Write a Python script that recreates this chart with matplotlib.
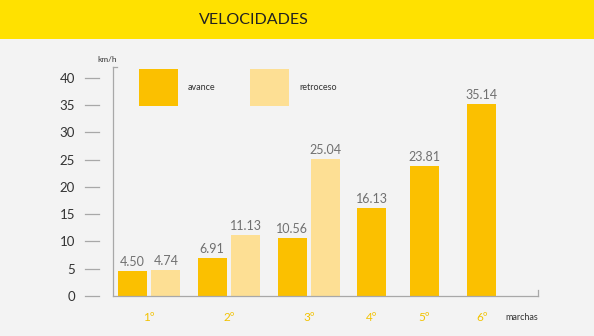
import matplotlib.pyplot as plt
from matplotlib.patches import Rectangle
import matplotlib.transforms as mtransforms
import numpy as np

plt.rcParams['font.family'] = ['Lato', 'DejaVu Sans']

GEARS = ['1º', '2º', '3º', '4º', '5º', '6º']
AVANCE = [4.50, 6.91, 10.56, 16.13, 23.81, 35.14]
RETROCESO = [4.74, 11.13, 25.04]
Y_TICKS = [0, 5, 10, 15, 20, 25, 30, 35, 40]

C_HEADER = '#FFE100'
C_AVANCE = '#FBC000'
C_RETRO = '#FDDF94'
C_BG = '#F3F3F3'
C_AXIS = '#A8A8A8'

# group centres: paired gears first, single gears packed tighter
centers = np.array([1.0, 2.0, 3.0, 3.78, 4.44, 5.16])
width = 0.3625
offset = 0.21

fig = plt.figure(figsize=(5.94, 3.36), dpi=100, facecolor=C_BG)
W, H = 594, 336
ax = fig.add_axes([113 / W, (H - 296) / H, (538 - 113) / W, (296 - 67) / H])
ax.set_facecolor(C_BG)

# header band
fig.patches.append(Rectangle((0, (H - 39) / H), 1, 39 / H, transform=fig.transFigure,
                             facecolor=C_HEADER, edgecolor='none'))
fig.text(254 / W, 1 - 20 / H, 'VELOCIDADES', ha='center', va='center',
         fontsize=11.5, color='#222222')

n_ret = len(RETROCESO)
x_av = centers.copy()
x_av[:n_ret] -= offset
x_re = centers[:n_ret] + offset

bars_av = ax.bar(x_av, AVANCE, width=width, color=C_AVANCE, label='avance')
bars_re = ax.bar(x_re, RETROCESO, width=width, color=C_RETRO, label='retroceso')

for bars, vals in ((bars_av, AVANCE), (bars_re, RETROCESO)):
    for b, v in zip(bars, vals):
        ax.annotate(f'{v:.2f}', (b.get_x() + b.get_width() / 2, v),
                    xytext=(0, 2.5), textcoords='offset points',
                    ha='center', va='bottom', fontsize=9, color='#707070')

ax.set_xlim(0.55, 5.86)
ax.set_ylim(0, 42.0)

for s in ('top', 'right'):
    ax.spines[s].set_visible(False)
for s in ('left', 'bottom'):
    ax.spines[s].set_color(C_AXIS)
    ax.spines[s].set_linewidth(0.9)

# small caps at the axis ends
ax.plot([0, 0.01], [1, 1], transform=ax.transAxes, color=C_AXIS, lw=0.9, clip_on=False)
ax.plot([1, 1], [0, 0.026], transform=ax.transAxes, color=C_AXIS, lw=0.9, clip_on=False)

# detached y tick marks
trans = mtransforms.blended_transform_factory(ax.transAxes, ax.transData)
x0 = (85 - 113) / (538 - 113)
x1 = (99 - 113) / (538 - 113)
for t in Y_TICKS:
    ax.plot([x0, x1], [t, t], transform=trans, color=C_AXIS, lw=0.9, clip_on=False)
ax.set_yticks(Y_TICKS)
ax.tick_params(axis='y', length=0, pad=38 * 72 / 100, labelsize=9.5, labelcolor='#333333')

ax.set_xticks(centers, GEARS)
ax.tick_params(axis='x', length=0, pad=11.5, labelsize=8.5, labelcolor='#F2C200')

fig.text(97 / W, 1 - 60 / H, 'km/h', fontsize=6, color='#333333', va='center')
fig.text(505 / W, 1 - 317 / H, 'marchas', fontsize=6.5, color='#333333', va='center')

# legend drawn as plain swatches
for px, label, color in ((139, 'avance', C_AVANCE), (250, 'retroceso', C_RETRO)):
    fig.patches.append(Rectangle((px / W, 1 - 106 / H), 39 / W, 37 / H,
                                 transform=fig.transFigure, facecolor=color, edgecolor='none'))
    fig.text((px + 49) / W, 1 - 88 / H, label, fontsize=6.5, color='#333333', va='center')

fig.savefig('out.png', dpi=100, facecolor=C_BG)
